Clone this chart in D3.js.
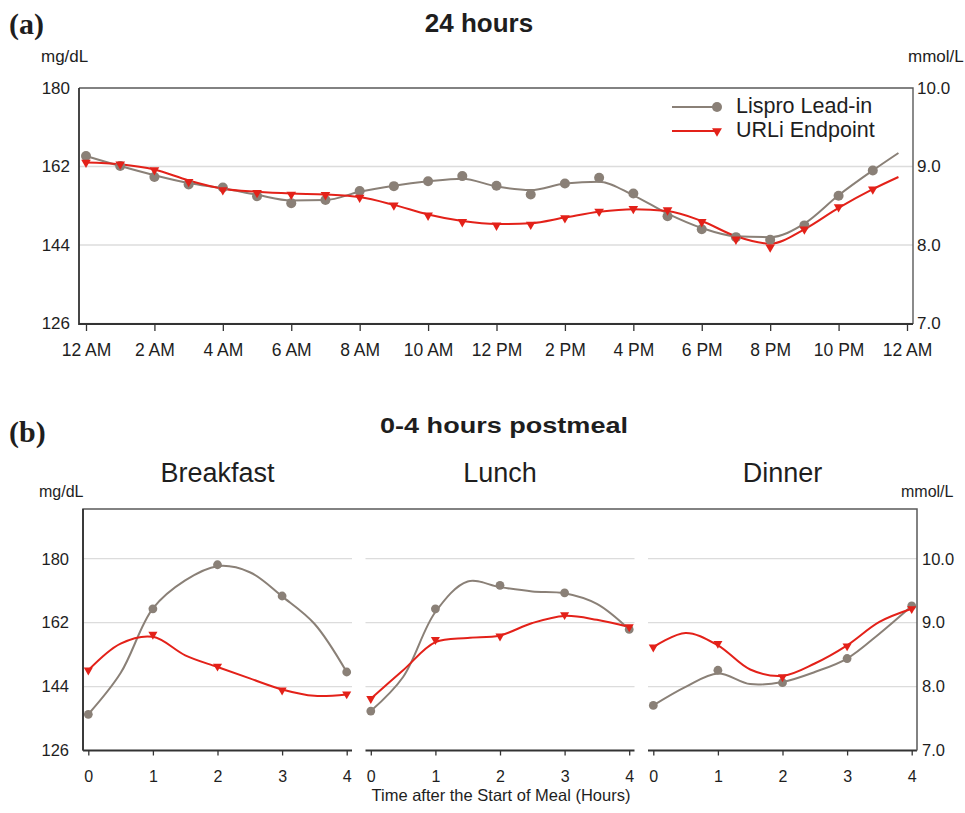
<!DOCTYPE html>
<html>
<head>
<meta charset="utf-8">
<script src="https://cdn.jsdelivr.net/npm/d3@7"></script>
<style>
  body { margin: 0; background: #fff; }
  svg { display: block; }
  text { font-family: "Liberation Sans", Arial, Helvetica, sans-serif; fill: #1e1e1e; }
</style>
</head>
<body>
<svg id="chart" width="965" height="813"></svg>
<script>
// ---------------- data: 24-hour glucose profile (mg/dL) ----------------
const hourPoints = d3.range(0, 24);                       // hourly means (markers)
const lisproHourly = [164.4, 162.1, 159.6, 157.9, 157.2, 155.2, 153.6, 154.3, 156.4, 157.5, 158.6, 159.8,
                      157.6, 155.6, 158.1, 159.4, 155.8, 150.6, 147.6, 145.8, 145.2, 148.5, 155.3, 161.1];
const urliHourly   = [162.9, 162.5, 161.2, 158.5, 156.6, 156.0, 155.6, 155.5, 154.9, 153.1, 150.8, 149.3,
                      148.5, 148.7, 150.2, 151.7, 152.3, 152.0, 149.3, 145.3, 143.5, 147.6, 152.7, 156.8];
// smoothed profile curves
const trendHours   = [0, 1, 2, 3, 4, 5, 6, 7, 8, 9, 10, 11, 12, 13, 14, 15, 16, 17, 18, 19, 20, 21, 22, 23, 23.75];
const lisproTrend  = [164.4, 162.1, 160.0, 158.2, 157.0, 155.5, 154.2, 154.3, 156.2, 157.6, 158.6, 159.2,
                      157.4, 156.6, 158.1, 158.5, 155.4, 151.2, 147.9, 146.0, 145.8, 148.9, 155.4, 161.1, 165.1];
const urliTrend    = [162.9, 162.5, 161.3, 158.8, 156.9, 156.2, 155.8, 155.6, 155.0, 153.2, 151.0, 149.5,
                      148.8, 149.0, 150.3, 151.6, 152.2, 151.8, 149.5, 146.0, 144.3, 147.6, 152.5, 156.8, 159.6];
const hourTicks      = [0, 2, 4, 6, 8, 10, 12, 14, 16, 18, 20, 22, 24];
const hourTickLabels = ["12 AM", "2 AM", "4 AM", "6 AM", "8 AM", "10 AM", "12 PM",
                        "2 PM", "4 PM", "6 PM", "8 PM", "10 PM", "12 AM"];
const mgTicks   = [126, 144, 162, 180];
const mmolTicks = [7.0, 8.0, 9.0, 10.0];
const seriesNames = ["Lispro Lead-in", "URLi Endpoint"];

// ---------------- data: 0-4 hours postmeal (mg/dL) ----------------
const meals       = ["Breakfast", "Lunch", "Dinner"];
const mealHours   = [0, 1, 2, 3, 4];
const mealTicks   = [0, 1, 2, 3, 4];
const curveHours  = [0, 0.5, 1, 1.5, 2, 2.5, 3, 3.5, 4];
const lisproBreakfast      = [136.2, 165.9, 178.3, 169.5, 148.1];
const urliBreakfast        = [148.6, 158.7, 149.7, 143.0, 141.9];
const lisproBreakfastTrend = [136.2, 147.8, 166.0, 173.9, 177.9, 176.2, 169.4, 161.7, 148.1];
const urliBreakfastTrend   = [148.6, 156.1, 158.0, 152.8, 149.5, 146.3, 143.2, 141.4, 141.8];
const lisproLunch          = [137.1, 165.9, 172.5, 170.4, 160.1];
const urliLunch            = [140.6, 157.2, 158.2, 164.2, 160.8];
const lisproLunchTrend     = [137.1, 146.7, 165.0, 173.6, 172.0, 170.8, 170.3, 167.3, 160.1];
const urliLunchTrend       = [140.6, 148.6, 156.5, 157.7, 158.4, 161.9, 163.9, 162.8, 160.8];
const lisproDinner         = [138.7, 148.6, 145.1, 151.9, 166.7];
const urliDinner           = [155.1, 156.1, 146.7, 155.4, 165.9];
const lisproDinnerTrend    = [138.7, 143.9, 147.7, 144.7, 145.3, 148.1, 151.9, 158.9, 166.7];
const urliDinnerTrend      = [155.1, 159.1, 155.6, 148.8, 147.0, 150.5, 155.6, 162.2, 165.9];
const mealMgTicks   = [126, 144, 162, 180];
const mealMmolTicks = [7.0, 8.0, 9.0, 10.0];

// ---------------- styling ----------------
const GRAY = "#8a8077", RED = "#e32119", FRAME = "#5a5a5a", AXIS = "#333", GRID = "#dcdcdc";
const MG_PER_MMOL = 18;

const svg = d3.select("#chart");
const circle = (r) => d3.symbol(d3.symbolCircle, Math.PI * r * r)();
const triDown = (s) => d3.symbol(d3.symbolTriangle, s)();

function cleanAxis(g) {
  g.select(".domain").remove();
  g.selectAll(".tick line").attr("stroke", AXIS).attr("stroke-width", 1.3);
}
function styleLabels(size) {
  return g => g.selectAll("text").style("font-size", size).attr("fill", "#1e1e1e")
                .style("font-family", "'Liberation Sans', Arial, sans-serif");
}

// ================= (a) 24 hours =================
const A = { left: 79, right: 913, top: 88, bottom: 324 };
const xDay = d3.scaleLinear().domain([0, 24]).range([86, 907]);
const yDay = d3.scaleLinear().domain([126, 180]).range([323.5, A.top]);
const yDayMmol = d3.scaleLinear().domain([126 / MG_PER_MMOL, 180 / MG_PER_MMOL]).range(yDay.range());

svg.append("text").attr("x", 9).attr("y", 34)
  .style("font-family", "'Liberation Serif', 'Times New Roman', serif")
  .style("font-weight", "bold").style("font-size", "30px").text("(a)");
svg.append("text").attr("x", 479).attr("y", 32).attr("text-anchor", "middle")
  .style("font-weight", "bold").style("font-size", "26px").text("24 hours");
svg.append("text").attr("x", 41).attr("y", 62).style("font-size", "17px").text("mg/dL");
svg.append("text").attr("x", 908).attr("y", 62).style("font-size", "17px").text("mmol/L");

// gridlines
svg.append("g").selectAll("line").data(mgTicks.filter(d => d < 180)).join("line")
  .attr("x1", A.left).attr("x2", A.right)
  .attr("y1", d => yDay(d)).attr("y2", d => yDay(d))
  .attr("stroke", GRID).attr("stroke-width", 1.3);

// frame
svg.append("path")
  .attr("d", `M${A.left},${A.top}H${A.right}V${A.bottom}`)
  .attr("fill", "none").attr("stroke", FRAME).attr("stroke-width", 1.4);
svg.append("path")
  .attr("d", `M${A.left},${A.top}V${A.bottom}H${A.right}`)
  .attr("fill", "none").attr("stroke", AXIS).attr("stroke-width", 1.8);

// axes
svg.append("g").attr("transform", `translate(0,${A.bottom})`)
  .call(d3.axisBottom(xDay).tickValues(hourTicks).tickFormat((d, i) => hourTickLabels[i])
        .tickSize(7).tickPadding(13))
  .call(cleanAxis).call(styleLabels("17.5px"));
svg.append("g").attr("transform", `translate(${A.left},0)`)
  .call(d3.axisLeft(yDay).tickValues(mgTicks).tickSize(0).tickPadding(9))
  .call(cleanAxis).call(styleLabels("17px"));
svg.append("g").attr("transform", `translate(${A.right},0)`)
  .call(d3.axisRight(yDayMmol).tickValues(mmolTicks).tickFormat(d3.format(".1f")).tickSize(0).tickPadding(4))
  .call(cleanAxis).call(styleLabels("17px"));

// curves + markers
const dayLine = d3.line().x(d => xDay(d[0])).y(d => yDay(d[1])).curve(d3.curveMonotoneX);
svg.append("path").datum(d3.zip(trendHours, lisproTrend)).attr("d", dayLine)
  .attr("fill", "none").attr("stroke", GRAY).attr("stroke-width", 2);
svg.append("path").datum(d3.zip(trendHours, urliTrend)).attr("d", dayLine)
  .attr("fill", "none").attr("stroke", RED).attr("stroke-width", 2);
svg.append("g").selectAll("path").data(d3.zip(hourPoints, lisproHourly)).join("path")
  .attr("d", circle(5)).attr("fill", GRAY)
  .attr("transform", d => `translate(${xDay(d[0])},${yDay(d[1])})`);
svg.append("g").selectAll("path").data(d3.zip(hourPoints, urliHourly)).join("path")
  .attr("d", triDown(40)).attr("fill", RED)
  .attr("transform", d => `translate(${xDay(d[0])},${yDay(d[1])}) rotate(180)`);

// legend
const legend = svg.append("g").attr("transform", "translate(672,107)");
const legendRows = [
  { name: seriesNames[0], color: GRAY, shape: circle(5), rot: 0, dy: 0 },
  { name: seriesNames[1], color: RED, shape: triDown(42), rot: 180, dy: 24 }
];
legendRows.forEach(r => {
  const g = legend.append("g").attr("transform", `translate(0,${r.dy})`);
  g.append("line").attr("x1", 0).attr("x2", 46).attr("stroke", r.color).attr("stroke-width", 2);
  g.append("path").attr("d", r.shape).attr("fill", r.color)
    .attr("transform", `translate(45,0) rotate(${r.rot})`);
  g.append("text").attr("x", 64).attr("y", 0).attr("dy", "0.3em")
    .style("font-size", "21.5px").text(r.name);
});

// ================= (b) 0-4 hours postmeal =================
const B = { top: 509, bottom: 750.5, left: 83, right: 917 };
const panelW = 269, panelStep = 282.5;
const yMeal = d3.scaleLinear().domain([126, 194]).range([B.bottom, B.top]);
const yMealMmol = d3.scaleLinear().domain([126 / MG_PER_MMOL, 194 / MG_PER_MMOL]).range(yMeal.range());

svg.append("text").attr("x", 9).attr("y", 442)
  .style("font-family", "'Liberation Serif', 'Times New Roman', serif")
  .style("font-weight", "bold").style("font-size", "30px").text("(b)");
svg.append("text").attr("x", 380).attr("y", 433)
  .attr("textLength", 248).attr("lengthAdjust", "spacingAndGlyphs")
  .style("font-weight", "bold").style("font-size", "22.5px").text("0-4 hours postmeal");
svg.append("text").attr("x", 39).attr("y", 497).style("font-size", "16px").text("mg/dL");
svg.append("text").attr("x", 901).attr("y", 497).style("font-size", "16px").text("mmol/L");
svg.append("text").attr("x", 501).attr("y", 801).attr("text-anchor", "middle")
  .style("font-size", "16.5px").text("Time after the Start of Meal (Hours)");

const mealMarkers = [[lisproBreakfast, urliBreakfast], [lisproLunch, urliLunch], [lisproDinner, urliDinner]];
const mealTrends  = [[lisproBreakfastTrend, urliBreakfastTrend], [lisproLunchTrend, urliLunchTrend],
                     [lisproDinnerTrend, urliDinnerTrend]];

meals.forEach((meal, i) => {
  const left = B.left + i * panelStep, right = left + panelW;
  const x = d3.scaleLinear().domain([0, 4]).range([left + 5.3, right - 5.3]);
  const g = svg.append("g");

  g.append("text").attr("x", (left + right) / 2).attr("y", 482).attr("text-anchor", "middle")
    .style("font-size", "27px").text(meal);

  g.append("g").selectAll("line").data(mealMgTicks.filter(d => d > 126)).join("line")
    .attr("x1", left).attr("x2", right)
    .attr("y1", d => yMeal(d)).attr("y2", d => yMeal(d))
    .attr("stroke", GRID).attr("stroke-width", 1.3);

  g.append("line").attr("x1", left).attr("x2", right).attr("y1", B.bottom).attr("y2", B.bottom)
    .attr("stroke", AXIS).attr("stroke-width", 1.8);
  g.append("g").attr("transform", `translate(0,${B.bottom})`)
    .call(d3.axisBottom(x).tickValues(mealTicks).tickFormat(d3.format("d")).tickSize(5).tickPadding(15))
    .call(cleanAxis).call(styleLabels("16px"));

  const line = d3.line().x(d => x(d[0])).y(d => yMeal(d[1])).curve(d3.curveCatmullRom.alpha(0.5));
  g.append("path").datum(d3.zip(curveHours, mealTrends[i][0])).attr("d", line)
    .attr("fill", "none").attr("stroke", GRAY).attr("stroke-width", 2);
  g.append("path").datum(d3.zip(curveHours, mealTrends[i][1])).attr("d", line)
    .attr("fill", "none").attr("stroke", RED).attr("stroke-width", 2);
  g.append("g").selectAll("path").data(d3.zip(mealHours, mealMarkers[i][0])).join("path")
    .attr("d", circle(4.4)).attr("fill", GRAY)
    .attr("transform", d => `translate(${x(d[0])},${yMeal(d[1])})`);
  g.append("g").selectAll("path").data(d3.zip(mealHours, mealMarkers[i][1])).join("path")
    .attr("d", triDown(36)).attr("fill", RED)
    .attr("transform", d => `translate(${x(d[0])},${yMeal(d[1])}) rotate(180)`);
});

// shared frame of the three panels
svg.append("path")
  .attr("d", `M${B.left},${B.bottom}V${B.top}H${B.right}V${B.bottom}`)
  .attr("fill", "none").attr("stroke", FRAME).attr("stroke-width", 1.5);
svg.append("line").attr("x1", B.left).attr("x2", B.left).attr("y1", B.top).attr("y2", B.bottom)
  .attr("stroke", AXIS).attr("stroke-width", 1.8);

svg.append("g").attr("transform", `translate(${B.left},0)`)
  .call(d3.axisLeft(yMeal).tickValues(mealMgTicks).tickSize(0).tickPadding(14))
  .call(cleanAxis).call(styleLabels("16.5px"));
svg.append("g").attr("transform", `translate(${B.right},0)`)
  .call(d3.axisRight(yMealMmol).tickValues(mealMmolTicks).tickFormat(d3.format(".1f")).tickSize(0).tickPadding(5))
  .call(cleanAxis).call(styleLabels("16.5px"));
</script>
</body>
</html>
